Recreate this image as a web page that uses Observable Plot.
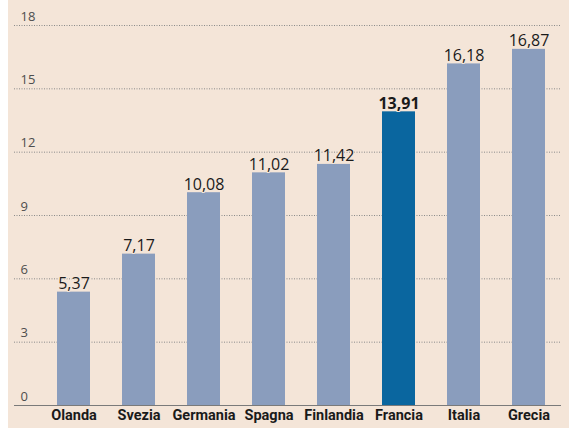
<!DOCTYPE html>
<html>
<head>
<meta charset="utf-8">
<script src="https://cdn.jsdelivr.net/npm/d3@7"></script>
<script src="https://cdn.jsdelivr.net/npm/@observablehq/plot@0.6"></script>
<style>
  body { margin: 0; background: #ffffff; }
  #chart svg { display: block; }
</style>
</head>
<body>
<div id="chart"></div>
<script>
const countries = ["Olanda", "Svezia", "Germania", "Spagna", "Finlandia", "Francia", "Italia", "Grecia"];
const values = [5.37, 7.17, 10.08, 11.02, 11.42, 13.91, 16.18, 16.87];
const highlight = "Francia";
const yTicks = [0, 3, 6, 9, 12, 15, 18];

const data = countries.map((c, i) => ({country: c, value: values[i], hl: c === highlight}));
const fmt = v => v.toFixed(2).replace(".", ",");
const bg = "#f4e5d8";
const labelOpts = {x: "country", y: "value", text: d => fmt(d.value), lineAnchor: "bottom", dy: -3, fontSize: 16, fill: "#1a1a1a", stroke: bg, strokeWidth: 2, paintOrder: "stroke"};

const chart = Plot.plot({
  width: 569,
  height: 428,
  marginLeft: 14,
  marginRight: 8,
  marginTop: 25,
  marginBottom: 23,
  style: {background: "linear-gradient(to right, #ffffff 8px, " + bg + " 8px)", fontFamily: "'Open Sans', Roboto, sans-serif"},
  x: {domain: countries, range: [40, 562], paddingInner: 0.5, paddingOuter: 0.25, axis: null},
  y: {domain: [0, 18], axis: null},
  marks: [
    Plot.ruleY(yTicks.filter(t => t > 0), {stroke: "#8a8a8a", strokeWidth: 1, strokeDasharray: "1,1.5"}),
    Plot.barY(data, {x: "country", y: "value", fill: d => d.hl ? "#0a669f" : "#8a9dbd"}),
    Plot.ruleY([0], {stroke: "#7a7a7a", strokeWidth: 1.2}),
    Plot.text(yTicks, {y: d => d, text: d => String(d), frameAnchor: "left", textAnchor: "start", dx: 6, dy: -9, fontSize: 13, fill: "#4e4e4e"}),
    Plot.text(data.filter(d => !d.hl), {...labelOpts, fontWeight: "normal"}),
    Plot.text(data.filter(d => d.hl), {...labelOpts, fontWeight: "bold"}),
    Plot.text(data, {x: "country", text: "country", frameAnchor: "bottom", lineAnchor: "top", dy: 4, fontSize: 14.5, fontWeight: "bold", fill: "#1a1a1a", fontFamily: "Roboto, sans-serif"})
  ]
});
document.getElementById("chart").appendChild(chart);
</script>
</body>
</html>
